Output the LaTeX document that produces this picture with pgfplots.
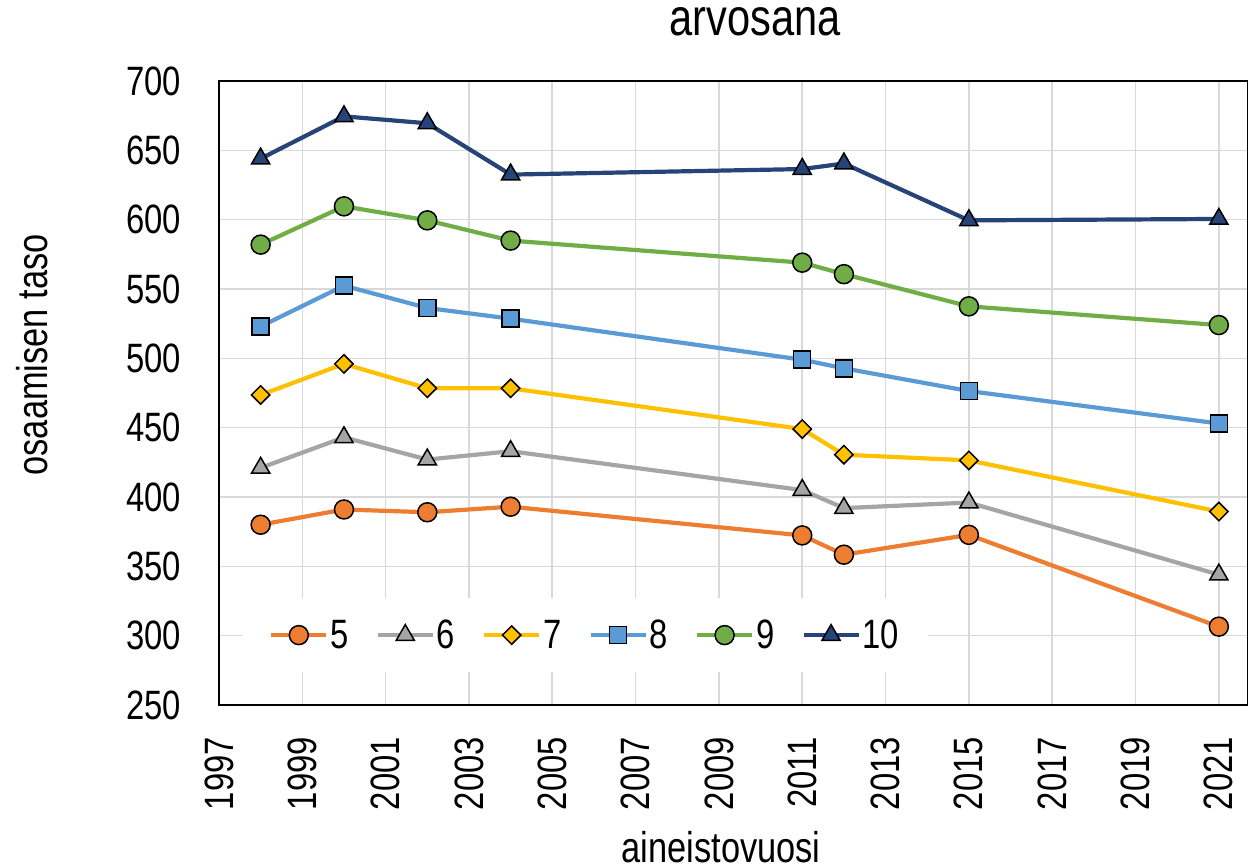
\documentclass[border=0pt]{standalone}
\usepackage{fontspec}
\setmainfont{Liberation Sans}[FakeStretch=0.8]
\usepackage{pgfplots}
\pgfplotsset{compat=1.18}
\definecolor{c5}{HTML}{ED7D31}
\definecolor{c6}{HTML}{A5A5A5}
\definecolor{c7}{HTML}{FFC000}
\definecolor{c8}{HTML}{5B9BD5}
\definecolor{c9}{HTML}{70AD47}
\definecolor{c10}{HTML}{264478}
\definecolor{gridc}{HTML}{D9D9D9}

\begin{document}
\begin{tikzpicture}
\path[use as bounding box] (-219pt,-160pt) rectangle (1029pt,705pt);
\begin{axis}[
  scale only axis,
  width=1029pt,height=624pt,
  xmin=1997,xmax=2021.7,ymin=250,ymax=700,
  xtick={1997,1999,...,2021},
  ytick={250,300,...,700},
  grid=major,
  grid style={gridc,line width=1.6pt},
  axis line style={black,line width=1.6pt},
  tick style={draw=none},
  /pgf/number format/assume math mode=true,
  xticklabel={\pgfmathprintnumber[1000 sep={}]{\tick}},
  ticklabel style={font=\fontsize{41}{45}\selectfont},
  yticklabel style={inner sep=0pt},
  yticklabel shift=38pt,
  xticklabel style={rotate=90,anchor=east,inner sep=0pt},
  xticklabel shift=32pt,
  title={arvosana},
  title style={at={(axis description cs:0.521,1.0625)},anchor=base,font=\fontsize{52}{56}\selectfont},
  xlabel={aineistovuosi},
  xlabel style={at={(axis description cs:0.488,-0.253)},anchor=base,font=\fontsize{43}{47}\selectfont},
  ylabel={osaamisen taso},
  ylabel style={at={(axis description cs:-0.182,0.561)},anchor=center,font=\fontsize{43}{47}\selectfont},
  every axis plot/.append style={line width=4.2pt},
  legend columns=6,
  legend image code/.code={\draw[mark repeat=2,mark phase=2,#1] plot coordinates {(0pt,0pt)(27.5pt,0pt)(55pt,0pt)};},
  legend style={at={(axis description cs:0.0224,0.112)},anchor=west,draw=none,fill=white,
    inner xsep=27pt,inner ysep=22pt,font=\fontsize{41}{45}\selectfont,
    nodes={inner xsep=2pt,inner ysep=0pt},
    /tikz/every odd column/.append style={column sep=0pt},
    /tikz/every even column/.append style={column sep=25pt}},
]
\addplot[c5,mark=*,mark size=9.5pt,mark options={draw=black,fill=c5,line width=1.5pt}] coordinates {
(1998,380)(2000,391)(2002,389)(2004,393)(2011,372.3)(2012,358.4)(2015,372.7)(2021,306.5)};
\addlegendentry{5}
\addplot[c6,mark=triangle*,mark size=10.5pt,mark options={draw=black,fill=c6,line width=1.5pt}] coordinates {
(1998,421)(2000,443)(2002,427)(2004,433)(2011,405)(2012,392)(2015,396)(2021,344)};
\addlegendentry{6}
\addplot[c7,mark=square*,mark size=6.5pt,mark options={draw=black,fill=c7,line width=1.5pt,rotate=45}] coordinates {
(1998,473.6)(2000,496)(2002,478.4)(2004,478.4)(2011,449)(2012,430.5)(2015,426.4)(2021,389.5)};
\addlegendentry{7}
\addplot[c8,mark=square*,mark size=8.5pt,mark options={draw=black,fill=c8,line width=1.5pt}] coordinates {
(1998,523)(2000,552.4)(2002,536.3)(2004,528.6)(2011,499)(2012,492.8)(2015,476.4)(2021,453)};
\addlegendentry{8}
\addplot[c9,mark=*,mark size=9.5pt,mark options={draw=black,fill=c9,line width=1.5pt}] coordinates {
(1998,582)(2000,609.6)(2002,599.5)(2004,584.9)(2011,569)(2012,560.7)(2015,537.5)(2021,524)};
\addlegendentry{9}
\addplot[c10,mark=triangle*,mark size=10.5pt,mark options={draw=black,fill=c10,line width=1.5pt}] coordinates {
(1998,644)(2000,674.5)(2002,669.5)(2004,632.5)(2011,636.5)(2012,640.5)(2015,599.5)(2021,600.5)};
\addlegendentry{10}
\end{axis}
\end{tikzpicture}
\end{document}
